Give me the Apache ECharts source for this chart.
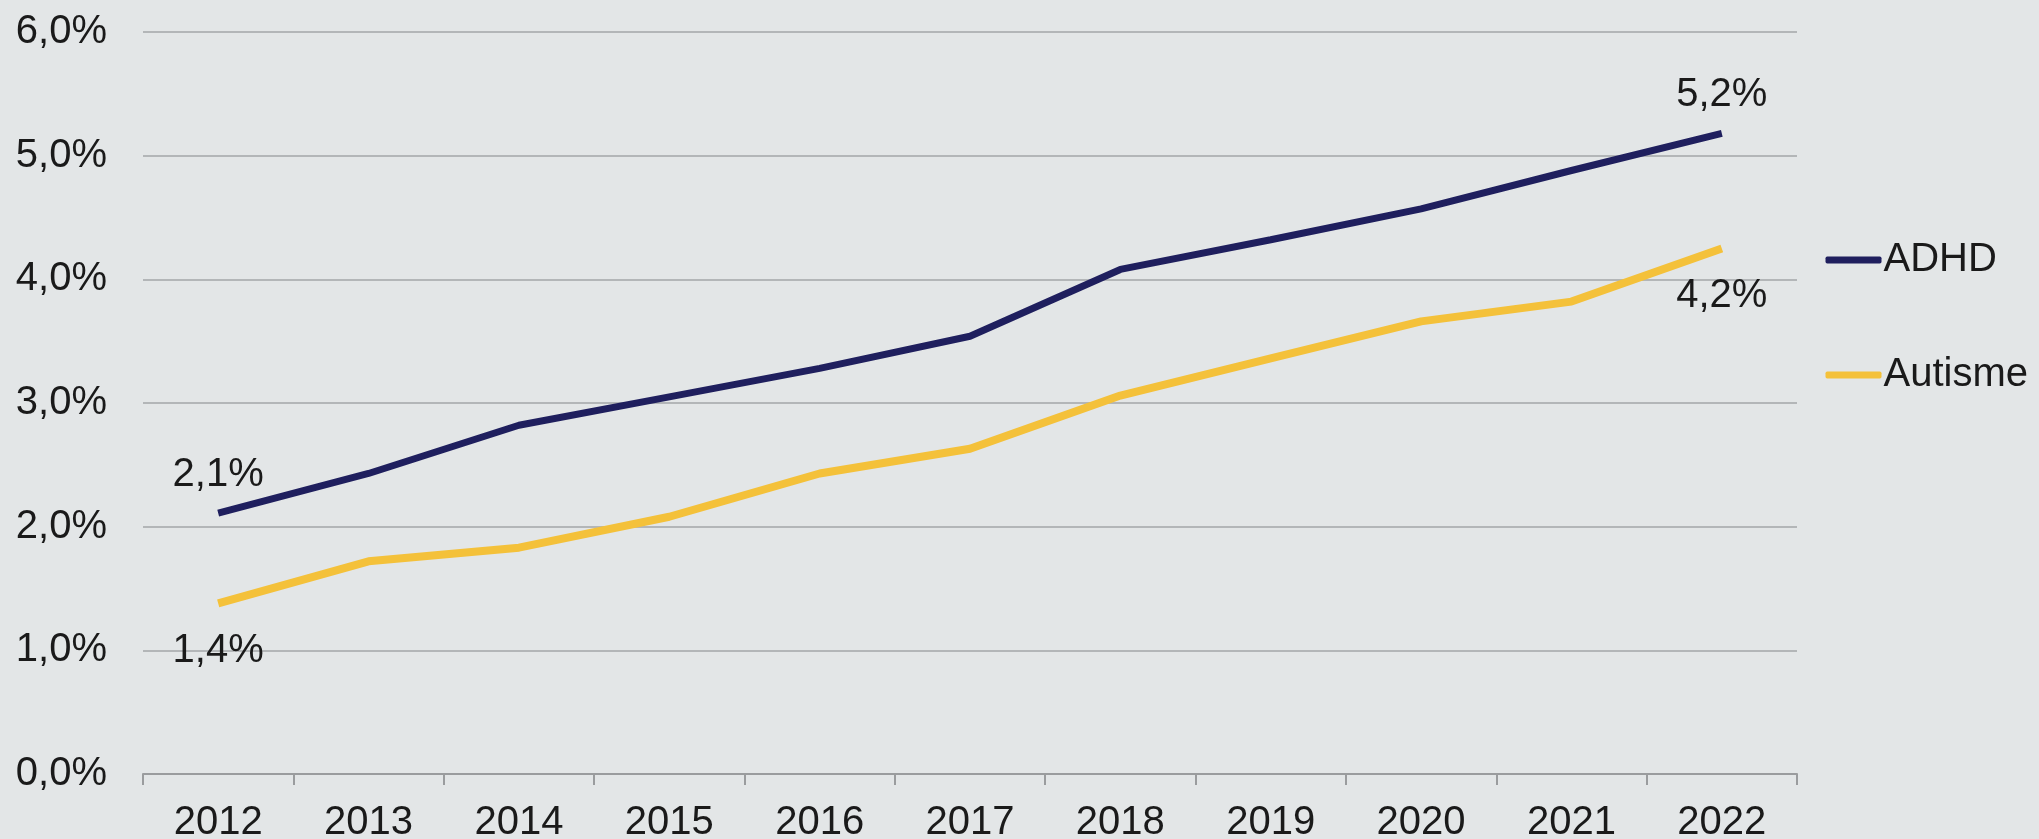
<!DOCTYPE html>
<html>
<head>
<meta charset="utf-8">
<script src="https://cdn.jsdelivr.net/npm/echarts@6/dist/echarts.min.js"></script>
<style>
html,body{margin:0;padding:0;background:#e3e6e7;}
#chart{width:2039px;height:839px;}
</style>
</head>
<body>
<div id="chart"></div>
<script>
const years = ['2012','2013','2014','2015','2016','2017','2018','2019','2020','2021','2022'];
const adhd = [2.11, 2.43, 2.82, 3.05, 3.28, 3.54, 4.08, 4.32, 4.57, 4.88, 5.18];
const autisme = [1.38, 1.72, 1.83, 2.08, 2.43, 2.63, 3.06, 3.36, 3.66, 3.82, 4.25];
const adhdLabels = {0: '2,1%', 10: '5,2%'};
const autismeLabels = {0: '1,4%', 10: '4,2%'};
const yTicks = [0, 1, 2, 3, 4, 5, 6];

const font = '"Liberation Sans", Arial, sans-serif';
const chart = echarts.init(document.getElementById('chart'));

function mk(vals, labels, pos) {
  return vals.map((v, i) => labels[i] !== undefined
    ? {value: v, label: {show: true, position: pos, distance: pos === 'top' ? 18 : 28, formatter: labels[i]}}
    : v);
}

chart.setOption({
  backgroundColor: '#e3e6e7',
  animation: false,
  grid: {left: 143, right: 242, top: 32, bottom: 65, containLabel: false, outerBoundsMode: 'none'},
  legend: {
    orient: 'vertical',
    right: 6,
    top: 235,
    itemGap: 75,
    itemWidth: 56,
    itemHeight: 7,
    icon: 'roundRect',
    textStyle: {fontFamily: font, fontSize: 40, color: '#1a1a1a', padding: [0, 0, 0, -3]},
    data: ['ADHD', 'Autisme']
  },
  xAxis: {
    type: 'category',
    data: years,
    boundaryGap: true,
    axisLine: {lineStyle: {color: '#9a9c9e', width: 2}},
    axisTick: {show: true, length: 11, lineStyle: {color: '#9a9c9e', width: 2}},
    axisLabel: {fontFamily: font, fontSize: 40, color: '#1a1a1a', margin: 29},
    splitLine: {show: false}
  },
  yAxis: {
    type: 'value',
    min: 0,
    max: 6,
    interval: 1,
    axisLine: {show: false},
    axisTick: {show: false},
    axisLabel: {
      fontFamily: font, fontSize: 40, color: '#1a1a1a', margin: 36,
      formatter: v => yTicks.includes(v) ? v.toFixed(1).replace('.', ',') + '%' : ''
    },
    splitLine: {lineStyle: {color: '#b3b6b8', width: 2}}
  },
  series: [
    {
      name: 'ADHD',
      type: 'line',
      data: mk(adhd, adhdLabels, 'top'),
      symbol: 'circle',
      symbolSize: 0,
      lineStyle: {color: '#1f1f5e', width: 7},
      itemStyle: {color: '#1f1f5e'},
      label: {fontFamily: font, fontSize: 40, color: '#1a1a1a'}
    },
    {
      name: 'Autisme',
      type: 'line',
      data: mk(autisme, autismeLabels, 'bottom'),
      symbol: 'circle',
      symbolSize: 0,
      lineStyle: {color: '#f4c13a', width: 8},
      itemStyle: {color: '#f4c13a'},
      label: {fontFamily: font, fontSize: 40, color: '#1a1a1a'}
    }
  ]
});
</script>
</body>
</html>
